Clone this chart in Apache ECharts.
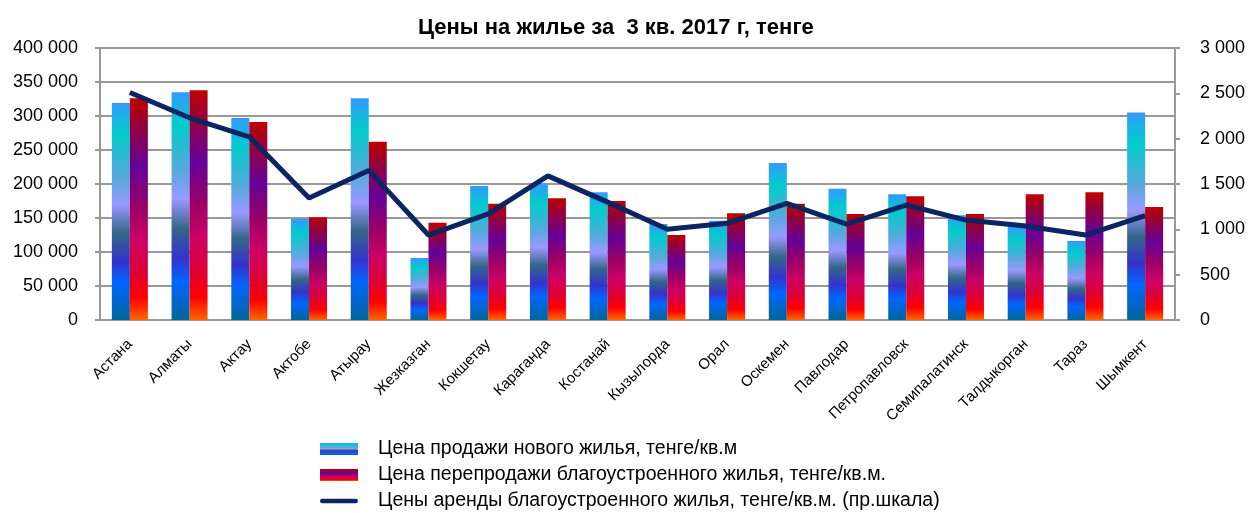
<!DOCTYPE html>
<html>
<head>
<meta charset="utf-8">
<script src="https://cdn.jsdelivr.net/npm/echarts@6/dist/echarts.min.js"></script>
<style>
  html, body { margin: 0; padding: 0; background: #fff; }
  #chart { width: 1251px; height: 513px; }
</style>
</head>
<body>
<div id="chart"></div>
<script>
var cities = ['Астана', 'Алматы', 'Актау', 'Актобе', 'Атырау', 'Жезказган', 'Кокшетау', 'Караганда',
  'Костанай', 'Кызылорда', 'Орал', 'Оскемен', 'Павлодар', 'Петропавловск', 'Семипалатинск',
  'Талдыкорган', 'Тараз', 'Шымкент'];
var newSale = [319000, 335000, 297000, 149000, 326000, 91000, 197000, 201000,
  188000, 141000, 146000, 231000, 193000, 185000, 154000, 137000, 116000, 305000];
var resale = [326000, 338000, 291000, 151000, 262000, 143000, 171000, 179000,
  175000, 125000, 157000, 171000, 156000, 182000, 156000, 185000, 188000, 166000];
var rent = [2510, 2230, 2020, 1345, 1650, 937, 1170, 1590,
  1300, 1000, 1066, 1287, 1058, 1268, 1102, 1036, 937, 1150];

var names = [
  'Цена продажи нового жилья, тенге/кв.м',
  'Цена перепродажи благоустроенного жилья, тенге/кв.м.',
  'Цены аренды благоустроенного жилья, тенге/кв.м. (пр.шкала)'
];

// 400 000 style thousands separator
function fmt(v) {
  return String(v).replace(/\B(?=(\d{3})+(?!\d))/g, ' ');
}

var blueGrad = new echarts.graphic.LinearGradient(0, 0, 0, 1, [
  {offset: 0, color: '#3399ff'},
  {offset: 0.14, color: '#00cccc'},
  {offset: 0.34, color: '#55aadd'},
  {offset: 0.47, color: '#9999ff'},
  {offset: 0.60, color: '#336688'},
  {offset: 0.73, color: '#3333cc'},
  {offset: 0.83, color: '#0066ff'},
  {offset: 1, color: '#006699'}
]);
var redGrad = new echarts.graphic.LinearGradient(0, 0, 0, 1, [
  {offset: 0, color: '#c00000'},
  {offset: 0.11, color: '#990033'},
  {offset: 0.31, color: '#660099'},
  {offset: 0.49, color: '#990066'},
  {offset: 0.64, color: '#cc0066'},
  {offset: 0.79, color: '#dd0033'},
  {offset: 0.9, color: '#ff0000'},
  {offset: 1, color: '#ff6600'}
]);

// one legend per row so each line sits where it does in the picture
function legendRow(name, top, icon) {
  return {
    left: 315,
    top: top,
    itemWidth: 38,
    itemHeight: 12,
    textStyle: { fontSize: 19.5, color: '#000', padding: [0, 0, 0, 15] },
    data: [{name: name, icon: icon}]
  };
}

var myChart = echarts.init(document.getElementById('chart'));

var option = {
  animation: false,
  textStyle: { fontFamily: 'Liberation Sans, Arial, sans-serif' },
  title: {
    text: 'Цены на жилье за  3 кв. 2017 г, тенге',
    left: 413,
    top: 12,
    textStyle: { fontSize: 22, fontWeight: 'bold', color: '#000' }
  },
  legend: [
    legendRow(names[0], 434, 'rect'),
    legendRow(names[1], 460, 'rect'),
    legendRow(names[2], 486, 'path://M2,0 L38,0 A2.5,2.5 0 0 1 38,5 L2,5 A2.5,2.5 0 0 1 2,0 Z')
  ],
  grid: { left: 100, right: 76, top: 48, bottom: 193 },
  xAxis: {
    type: 'category',
    data: cities,
    axisLine: { lineStyle: { color: '#999', width: 2 } },
    axisTick: { show: false },
    axisLabel: { rotate: 45, fontSize: 15, color: '#000', margin: 22, interval: 0 }
  },
  yAxis: [
    {
      type: 'value',
      min: 0, max: 400000, interval: 50000,
      axisLine: { show: true, lineStyle: { color: '#999', width: 2 } },
      axisTick: { show: true, length: 5, lineStyle: { color: '#999', width: 2 } },
      axisLabel: { fontSize: 18, color: '#000', margin: 22, formatter: fmt },
      splitLine: { lineStyle: { color: '#999', width: 2 } }
    },
    {
      type: 'value',
      min: 0, max: 3000, interval: 500,
      axisLine: { show: true, lineStyle: { color: '#999', width: 2 } },
      axisTick: { show: true, length: 5, lineStyle: { color: '#999', width: 2 } },
      axisLabel: { fontSize: 18, color: '#000', margin: 25, formatter: fmt },
      splitLine: { show: false }
    }
  ],
  series: [
    {
      name: names[0],
      type: 'bar',
      barWidth: 18,
      barGap: '0%',
      itemStyle: { color: blueGrad },
      data: newSale
    },
    {
      name: names[1],
      type: 'bar',
      barWidth: 18,
      itemStyle: { color: redGrad },
      data: resale
    },
    {
      name: names[2],
      type: 'line',
      yAxisIndex: 1,
      symbol: 'none',
      lineStyle: { color: '#0a2561', width: 5 },
      itemStyle: { color: '#0a2561' },
      data: rent
    }
  ]
};

myChart.setOption(option);
</script>
</body>
</html>
